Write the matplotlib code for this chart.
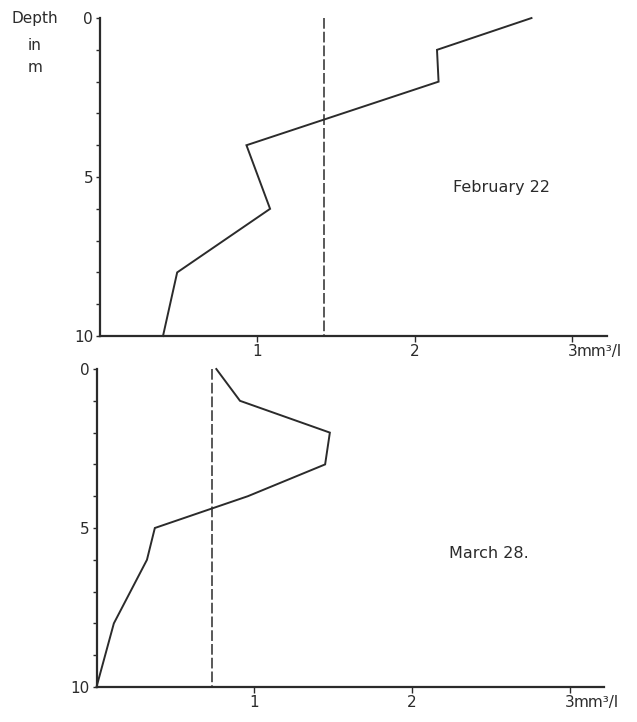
#!/usr/bin/env python3
"""Depth profiles of plankton volume (mm3/l) for two dates, with mean lines."""
import matplotlib
matplotlib.use("Agg")
import matplotlib.pyplot as plt

# February 22 profile
FEB_DEPTH = [0, 1, 2, 4, 6, 8, 10]
FEB_VOL = [2.74, 2.14, 2.15, 0.93, 1.08, 0.49, 0.40]
FEB_MEAN = 1.42

# March 28 profile
MAR_DEPTH = [0, 1, 2, 3, 4, 5, 6, 8, 10]
MAR_VOL = [0.76, 0.91, 1.48, 1.45, 0.96, 0.37, 0.32, 0.11, 0.0]
MAR_MEAN = 0.73

X_TICKS = [1, 2, 3]
X_TICKLABELS = ["1", "2", "3"]
Y_MAJOR = [0, 5, 10]
Y_MINOR = list(range(0, 11))

INK = "#2b2b2b"
FS = 11
plt.rcParams["font.family"] = ["DejaVu Sans"]


def style_axis(ax):
    ax.set_xlim(0, 3.22)
    ax.set_ylim(10, 0)
    for s in ("top", "right"):
        ax.spines[s].set_visible(False)
    for s in ("left", "bottom"):
        ax.spines[s].set_linewidth(1.6)
        ax.spines[s].set_color(INK)
    ax.set_xticks(X_TICKS)
    ax.set_xticklabels(X_TICKLABELS, fontsize=FS, color=INK)
    ax.set_yticks(Y_MAJOR)
    ax.set_yticklabels([str(v) for v in Y_MAJOR], fontsize=FS, color=INK)
    ax.set_yticks(Y_MINOR, minor=True)
    ax.tick_params(axis="both", which="both", direction="out", length=3,
                   width=1.0, color=INK, pad=2)
    ax.tick_params(axis="x", which="major", length=4)
    ax.text(3.028, 10.5, "mm³/l", fontsize=FS, color=INK,
            va="center", ha="left", clip_on=False)


def draw_panel(ax, depth, vol, mean, label, label_xy):
    ax.plot(vol, depth, color=INK, linewidth=1.4, clip_on=False,
            solid_joinstyle="miter")
    ax.plot([mean, mean], [0, 10], color=INK, linewidth=1.1,
            linestyle=(0, (7, 2)), clip_on=False)
    ax.text(label_xy[0], label_xy[1], label, fontsize=FS + 0.5, color=INK,
            ha="center", va="center")
    style_axis(ax)


fig = plt.figure(figsize=(6.37, 7.22), dpi=100)
ax_top = fig.add_axes([0.157, 0.5346, 0.796, 0.4404])
ax_bot = fig.add_axes([0.1515, 0.0485, 0.797, 0.4404])

draw_panel(ax_top, FEB_DEPTH, FEB_VOL, FEB_MEAN, "February 22", (2.55, 5.33))
draw_panel(ax_bot, MAR_DEPTH, MAR_VOL, MAR_MEAN, "March 28.", (2.49, 5.8))

fig.text(35 / 637, 1 - 18 / 722, "Depth", fontsize=FS, color=INK,
         ha="center", va="center")
fig.text(35 / 637, 1 - 45 / 722, "in", fontsize=FS, color=INK,
         ha="center", va="center")
fig.text(35 / 637, 1 - 67 / 722, "m", fontsize=FS, color=INK,
         ha="center", va="center")

fig.savefig("out.png", dpi=100)
